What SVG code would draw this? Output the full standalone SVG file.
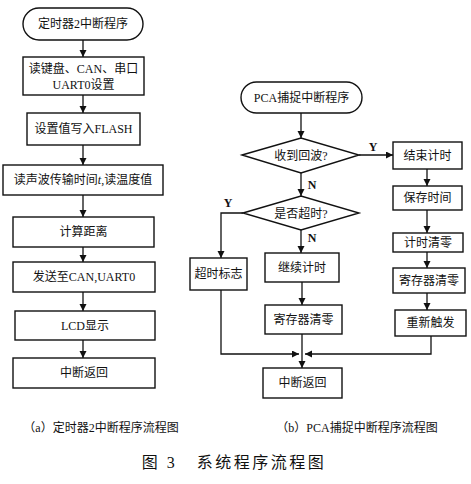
<svg xmlns="http://www.w3.org/2000/svg" width="471" height="484" viewBox="0 0 471 484">
<defs>
<marker id="ah" markerWidth="8" markerHeight="8" refX="7" refY="3.5" orient="auto" markerUnits="userSpaceOnUse">
<path d="M0,0 L7,3.5 L0,7 Z" fill="#111"/>
</marker>
<style>
.b{fill:#fff;stroke:#111;stroke-width:1.4}
.c{fill:none;stroke:#111;stroke-width:1.3}
.a{fill:none;stroke:#111;stroke-width:1.3;marker-end:url(#ah)}
text{font-family:"Liberation Serif","Noto Sans CJK SC",serif;font-size:12px;fill:#111;text-anchor:middle;dominant-baseline:central}
.bold{font-weight:bold}
.cap{font-size:12px}
.title{font-size:16px;letter-spacing:2.5px}
</style>
</defs>
<rect width="471" height="484" fill="#fff"/>
<g id="connectors">
<line class="a" x1="83" y1="40" x2="83" y2="57"/>
<line class="a" x1="83" y1="95" x2="83" y2="113"/>
<line class="a" x1="83" y1="145" x2="83" y2="165"/>
<line class="a" x1="83" y1="195" x2="83" y2="217"/>
<line class="a" x1="83" y1="247" x2="83" y2="262"/>
<line class="a" x1="83" y1="292" x2="83" y2="311"/>
<line class="a" x1="83" y1="340" x2="83" y2="358"/>
<line class="a" x1="301" y1="113" x2="301" y2="138"/>
<line class="a" x1="359" y1="155" x2="393" y2="155"/>
<line class="a" x1="301" y1="173" x2="301" y2="196"/>
<line class="a" x1="301" y1="230" x2="301" y2="253"/>
<polyline class="a" points="243,213 221,213 221,258"/>
<line class="a" x1="427" y1="169" x2="427" y2="186"/>
<line class="a" x1="427" y1="210" x2="427" y2="233"/>
<line class="a" x1="427" y1="252" x2="427" y2="268"/>
<line class="a" x1="427" y1="293" x2="427" y2="310"/>
<line class="a" x1="302" y1="282" x2="302" y2="305"/>
<polyline class="a" points="221,290 221,354 299,354"/>
<polyline class="a" points="431,336 431,354 305,354"/>
<line class="a" x1="302" y1="334" x2="302" y2="368"/>
<text class="bold" x="373" y="147">Y</text>
<text class="bold" x="312" y="185">N</text>
<text class="bold" x="228" y="203">Y</text>
<text class="bold" x="312" y="238">N</text>
</g>
<g id="n_start_a"><rect class="b" x="23" y="8" width="120" height="32" rx="16"/><text x="83" y="24">定时器2中断程序</text></g>
<g id="n_read_keys"><rect class="b" x="23" y="57" width="121" height="38"/><text x="83.5" y="69">读键盘、CAN、串口</text><text x="83.5" y="85">UART0设置</text></g>
<g id="n_flash"><rect class="b" x="27" y="113" width="113" height="32"/><text x="83.5" y="129">设置值写入FLASH</text></g>
<g id="n_read_time"><rect class="b" x="3" y="165" width="160" height="30"/><text x="83" y="180">读声波传输时间<tspan font-style="italic">t</tspan>,读温度值</text></g>
<g id="n_calc"><rect class="b" x="13" y="217" width="141" height="30"/><text x="83.5" y="232">计算距离</text></g>
<g id="n_send"><rect class="b" x="13" y="262" width="142" height="30"/><text x="84" y="277">发送至CAN,UART0</text></g>
<g id="n_lcd"><rect class="b" x="15" y="311" width="140" height="29"/><text x="85" y="325.5">LCD显示</text></g>
<g id="n_ret_a"><rect class="b" x="13" y="358" width="142" height="30"/><text x="84" y="373">中断返回</text></g>
<g id="n_start_b"><rect class="b" x="241" y="82" width="121" height="31" rx="15.5"/><text x="301.5" y="97.5">PCA捕捉中断程序</text></g>
<g id="n_dec1"><polygon class="b" points="242,155 301,138 359,155 301,173"/><text x="301" y="155.5">收到回波?</text></g>
<g id="n_dec2"><polygon class="b" points="243,213 301,196 359,213 301,230"/><text x="301" y="213.5">是否超时?</text></g>
<g id="n_end_timing"><rect class="b" x="393" y="142" width="69" height="27"/><text x="427.5" y="155.5">结束计时</text></g>
<g id="n_save"><rect class="b" x="393" y="186" width="69" height="24"/><text x="427.5" y="198">保存时间</text></g>
<g id="n_clr_timer"><rect class="b" x="393" y="233" width="70" height="19"/><text x="428" y="242.5">计时清零</text></g>
<g id="n_clr_reg_r"><rect class="b" x="393" y="268" width="72" height="25"/><text x="429" y="280.5">寄存器清零</text></g>
<g id="n_retrigger"><rect class="b" x="395" y="310" width="71" height="26"/><text x="430.5" y="323">重新触发</text></g>
<g id="n_timeout"><rect class="b" x="190" y="258" width="57" height="32"/><text x="218.5" y="274">超时标志</text></g>
<g id="n_continue"><rect class="b" x="265" y="253" width="74" height="29"/><text x="302" y="267.5">继续计时</text></g>
<g id="n_clr_reg_m"><rect class="b" x="265" y="305" width="77" height="29"/><text x="303.5" y="319.5">寄存器清零</text></g>
<g id="n_ret_b"><rect class="b" x="263" y="368" width="79" height="30"/><text x="302.5" y="383">中断返回</text></g>
<text class="cap" x="101" y="428">（a）定时器2中断程序流程图</text>
<text class="cap" x="357" y="428">（b）PCA捕捉中断程序流程图</text>
<text class="title" x="234" y="462" xml:space="preserve">图 3   系统程序流程图</text>
</svg>
